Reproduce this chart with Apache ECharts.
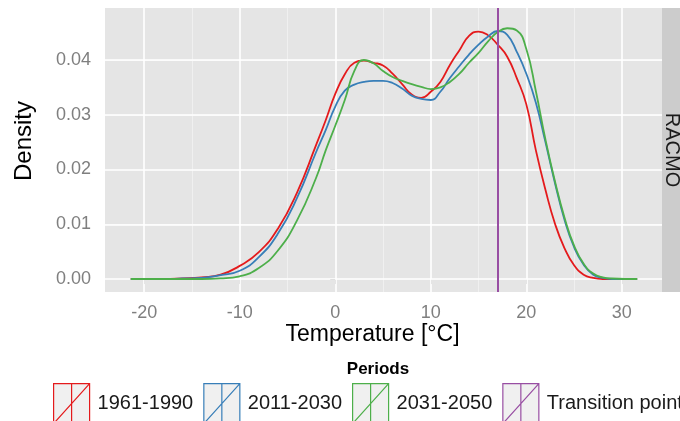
<!DOCTYPE html>
<html><head><meta charset="utf-8">
<script src="https://cdn.jsdelivr.net/npm/echarts@6/dist/echarts.min.js"></script>
<style>html,body{margin:0;padding:0;background:#fff}#c{width:680px;height:421px}</style>
</head><body><div id="c"></div>
<script>
// ---- data ----
const temps = [-21.4, -18, -16, -14, -12, -10, -8, -6, -4, -2, -1, 0, 1, 2, 3, 4, 5, 6, 7, 8, 9, 10, 11, 12, 13, 14, 15, 16, 17, 18, 19, 20, 21, 22, 23, 24, 25, 26, 27, 28, 29, 31.6];
const p1961 = [0, 0, 0.0001, 0.0003, 0.0008, 0.0024, 0.0049, 0.0092, 0.0158, 0.0245, 0.0290, 0.0338, 0.0374, 0.0395, 0.0399, 0.0395, 0.0390, 0.0375, 0.0356, 0.0337, 0.0331, 0.0342, 0.0360, 0.0391, 0.0418, 0.0444, 0.0452, 0.0445, 0.0428, 0.0406, 0.0367, 0.0319, 0.0235, 0.0163, 0.0101, 0.0056, 0.0025, 0.0008, 0.0002, 0, 0, 0];
const p2011 = [0, 0, 0.0001, 0.0002, 0.0007, 0.0015, 0.0040, 0.0083, 0.0148, 0.0232, 0.0272, 0.0315, 0.0344, 0.0355, 0.0360, 0.0362, 0.0362, 0.0358, 0.0348, 0.0335, 0.0329, 0.0327, 0.0342, 0.0367, 0.0389, 0.0410, 0.0428, 0.0443, 0.0453, 0.0446, 0.0415, 0.0375, 0.0322, 0.0250, 0.0175, 0.0108, 0.0058, 0.0026, 0.0008, 0.0002, 0, 0];
const p2031 = [0, 0, 0, 0, 0.0001, 0.0005, 0.0020, 0.0052, 0.0107, 0.0185, 0.0235, 0.0280, 0.0327, 0.0380, 0.0400, 0.0394, 0.0380, 0.0369, 0.0362, 0.0356, 0.0351, 0.0347, 0.0350, 0.0360, 0.0375, 0.0395, 0.0413, 0.0434, 0.0451, 0.0458, 0.0454, 0.0420, 0.0343, 0.0255, 0.0178, 0.0112, 0.0061, 0.0028, 0.0010, 0.0003, 0.0001, 0];
const transitionPoint = 17;
const periodNames = ['1961-1990', '2011-2030', '2031-2050', 'Transition point'];
const legendTitle = 'Periods';
const facetLabel = 'RACMO';
const xTitle = 'Temperature [°C]';
const yTitle = 'Density';
const xTicks = [-20, -10, 0, 10, 20, 30];
const xMinor = [-15, -5, 5, 15, 25];
const yTicks = [0, 0.01, 0.02, 0.03, 0.04];
const yMinor = [0.005, 0.015, 0.025, 0.035, 0.045];

// ---- styles ----
const colors = ['#E41A1C', '#377EB8', '#4DAF4A', '#984EA3'];
const FONT = "'Liberation Sans', Arial, Helvetica, sans-serif";
const keyIcon = 'path://M0,0H36V40H0Z M18,0V40 M0,40L36,0';

const pairs = vals => temps.map((t, i) => [t, vals[i]]);
const chart = echarts.init(document.getElementById('c'), null, {renderer: 'canvas'});

const gridLines = [
  ...xMinor.map(v => ({xAxis: v, lineStyle: {color: '#F2F2F2', width: 0.8, type: 'solid'}})),
  ...yMinor.map(v => ({yAxis: v, lineStyle: {color: '#F2F2F2', width: 0.8, type: 'solid'}})),
  ...xTicks.map(v => ({xAxis: v, lineStyle: {color: '#FFFFFF', width: 1.6, type: 'solid'}})),
  ...yTicks.map(v => ({yAxis: v, lineStyle: {color: '#FFFFFF', width: 1.6, type: 'solid'}}))
];

const densSeries = [p1961, p2011, p2031].map((vals, i) => ({
  name: periodNames[i], type: 'line', data: pairs(vals), smooth: 0.5,
  showSymbol: false, symbol: 'none', z: 3,
  lineStyle: {color: colors[i], width: 1.8}, itemStyle: {color: colors[i]}
}));

chart.setOption({
  animation: false,
  textStyle: {fontFamily: FONT},
  grid: {left: 105, right: 18, top: 8, bottom: 129, show: true, backgroundColor: '#E5E5E5', borderWidth: 0},
  xAxis: {
    type: 'value', min: -24.1, max: 34.2,
    axisLine: {show: false},
    axisTick: {show: true, length: 5, customValues: xTicks, lineStyle: {color: '#7F7F7F', width: 1}},
    axisLabel: {customValues: xTicks, color: '#7F7F7F', fontSize: 18, margin: 12, fontFamily: FONT},
    splitLine: {show: false}
  },
  yAxis: {
    type: 'value', min: -0.00237, max: 0.0495,
    axisLine: {show: false},
    axisTick: {show: true, length: 5, customValues: yTicks, lineStyle: {color: '#7F7F7F', width: 1}},
    axisLabel: {customValues: yTicks, color: '#7F7F7F', fontSize: 18, margin: 14, fontFamily: FONT,
      formatter: v => v.toFixed(2)},
    splitLine: {show: false}
  },
  legend: {
    data: periodNames.map((n, i) => ({name: n, icon: keyIcon,
      itemStyle: {color: '#F0F0F0', borderColor: colors[i], borderWidth: 1.2}})),
    orient: 'horizontal', left: 53, top: 383, width: 800, padding: 0,
    itemWidth: 36, itemHeight: 40, itemGap: 10, symbolKeepAspect: false,
    textStyle: {fontSize: 20, color: '#1A1A1A', fontFamily: FONT, padding: [0, 0, 0, 3]}, selectedMode: false
  },
  graphic: [
    {type: 'rect', shape: {x: 662, y: 8, width: 30, height: 284}, style: {fill: '#CCCCCC'}, z: 0},
    {type: 'text', x: 672, y: 150, rotation: -Math.PI / 2,
      style: {text: facetLabel, font: '20px ' + FONT, fill: '#1A1A1A', align: 'center', verticalAlign: 'middle'}},
    {type: 'text', x: 24, y: 141, rotation: Math.PI / 2,
      style: {text: yTitle, font: '24px ' + FONT, fill: '#000', align: 'center', verticalAlign: 'middle'}},
    {type: 'text', x: 372.5, y: 335,
      style: {text: xTitle, font: '23px ' + FONT, fill: '#000', align: 'center', verticalAlign: 'middle'}},
    {type: 'text', x: 378, y: 369,
      style: {text: legendTitle, font: 'bold 17px ' + FONT, fill: '#000', align: 'center', verticalAlign: 'middle'}}
  ],
  series: [
    {name: '_grid', type: 'line', data: [], z: 1, silent: true,
      markLine: {silent: true, symbol: 'none', z: 1, label: {show: false}, animation: false, data: gridLines}},
    ...densSeries,
    {name: periodNames[3], type: 'line', data: [], z: 4, itemStyle: {color: colors[3]},
      markLine: {silent: true, symbol: 'none', z: 6, label: {show: false}, animation: false,
        lineStyle: {color: colors[3], width: 2, type: 'solid'},
        data: [{xAxis: transitionPoint}]}}
  ]
});
</script></body></html>
